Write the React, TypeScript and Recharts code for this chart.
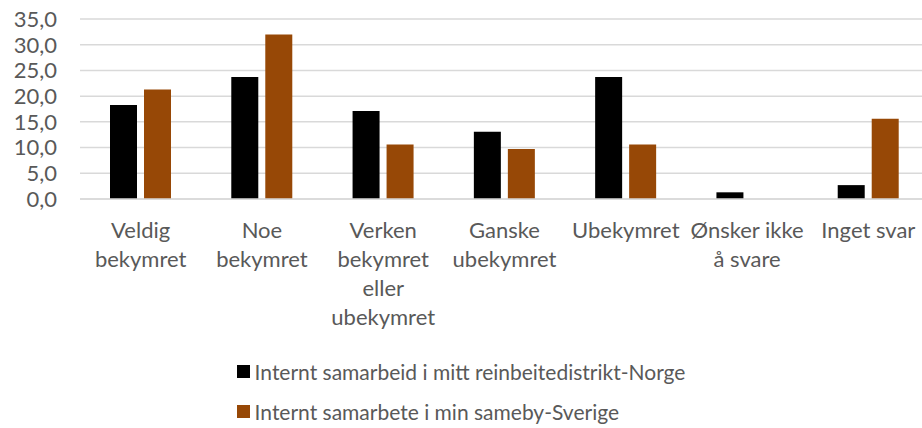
import { BarChart, Bar, XAxis, YAxis, CartesianGrid, Legend } from 'recharts';

const categories = [
  'Veldig\nbekymret',
  'Noe\nbekymret',
  'Verken\nbekymret\neller\nubekymret',
  'Ganske\nubekymret',
  'Ubekymret',
  'Ønsker ikke\nå svare',
  'Inget svar',
];

const norge = [18.3, 23.7, 17.1, 13.1, 23.7, 1.3, 2.7];
const sverige = [21.3, 32.0, 10.6, 9.7, 10.6, 0, 15.6];

const yTicks = [0, 5, 10, 15, 20, 25, 30, 35];

const SERIES = [
  { key: 'norge', name: 'Internt samarbeid i mitt reinbeitedistrikt-Norge', color: '#000000' },
  { key: 'sverige', name: 'Internt samarbete i min sameby-Sverige', color: '#974806' },
];

const data = categories.map((c, i) => ({ category: c, norge: norge[i], sverige: sverige[i] }));

const FONT = 'Lato, "Open Sans", sans-serif';
const TEXT = '#595959';

interface TickProps {
  x?: number;
  y?: number;
  payload?: { value: string };
}

const CategoryTick = ({ x = 0, y = 0, payload }: TickProps) => {
  const lines = String(payload?.value ?? '').split('\n');
  return (
    <text x={x} y={y} textAnchor="middle" fill={TEXT} fontFamily={FONT} fontSize={22}>
      {lines.map((line, i) => (
        <tspan key={i} x={x} dy={i === 0 ? 31 : 29}>
          {line}
        </tspan>
      ))}
    </text>
  );
};

const LegendContent = () => (
  <ul style={{ margin: 0, padding: 0, listStyle: 'none' }}>
    {SERIES.map((s, i) => (
      <li
        key={s.key}
        style={{
          display: 'flex',
          alignItems: 'center',
          height: 34,
          marginTop: i === 0 ? 0 : 6,
          fontFamily: FONT,
          fontSize: 21,
          color: TEXT,
          whiteSpace: 'nowrap',
        }}
      >
        <span style={{ display: 'inline-block', width: 13, height: 13, background: s.color, marginRight: 5 }} />
        {s.name}
      </li>
    ))}
  </ul>
);

export default function App() {
  return (
    <div style={{ position: 'absolute', left: 0, top: 0, width: 922, height: 428, background: '#fff', overflow: 'hidden' }}>
      {/* plot area runs a few px past the right edge, like the cropped original */}
      <BarChart
        width={922}
        height={428}
        data={data}
        margin={{ top: 19, right: -7, left: 0, bottom: 0 }}
        barSize={27}
        barGap={7}
        style={{ overflow: 'hidden' }}
      >
        <CartesianGrid vertical={false} stroke="#d9d9d9" strokeWidth={1.5} />
        <XAxis
          dataKey="category"
          axisLine={{ stroke: '#d9d9d9', strokeWidth: 1.5 }}
          tickLine={false}
          interval={0}
          height={155}
          tick={<CategoryTick />}
        />
        <YAxis
          domain={[0, 35]}
          ticks={yTicks}
          interval={0}
          width={80}
          axisLine={false}
          tickLine={false}
          tickMargin={17}
          tick={{ fill: TEXT, fontSize: 22, fontFamily: FONT }}
          tickFormatter={(v: number) => v.toFixed(1).replace('.', ',')}
        />
        <Legend
          layout="vertical"
          verticalAlign="bottom"
          align="center"
          content={<LegendContent />}
          wrapperStyle={{ left: 0, width: 922, display: 'flex', justifyContent: 'center' }}
        />
        {SERIES.map(s => (
          <Bar key={s.key} dataKey={s.key} name={s.name} fill={s.color} isAnimationActive={false} />
        ))}
      </BarChart>
    </div>
  );
}
